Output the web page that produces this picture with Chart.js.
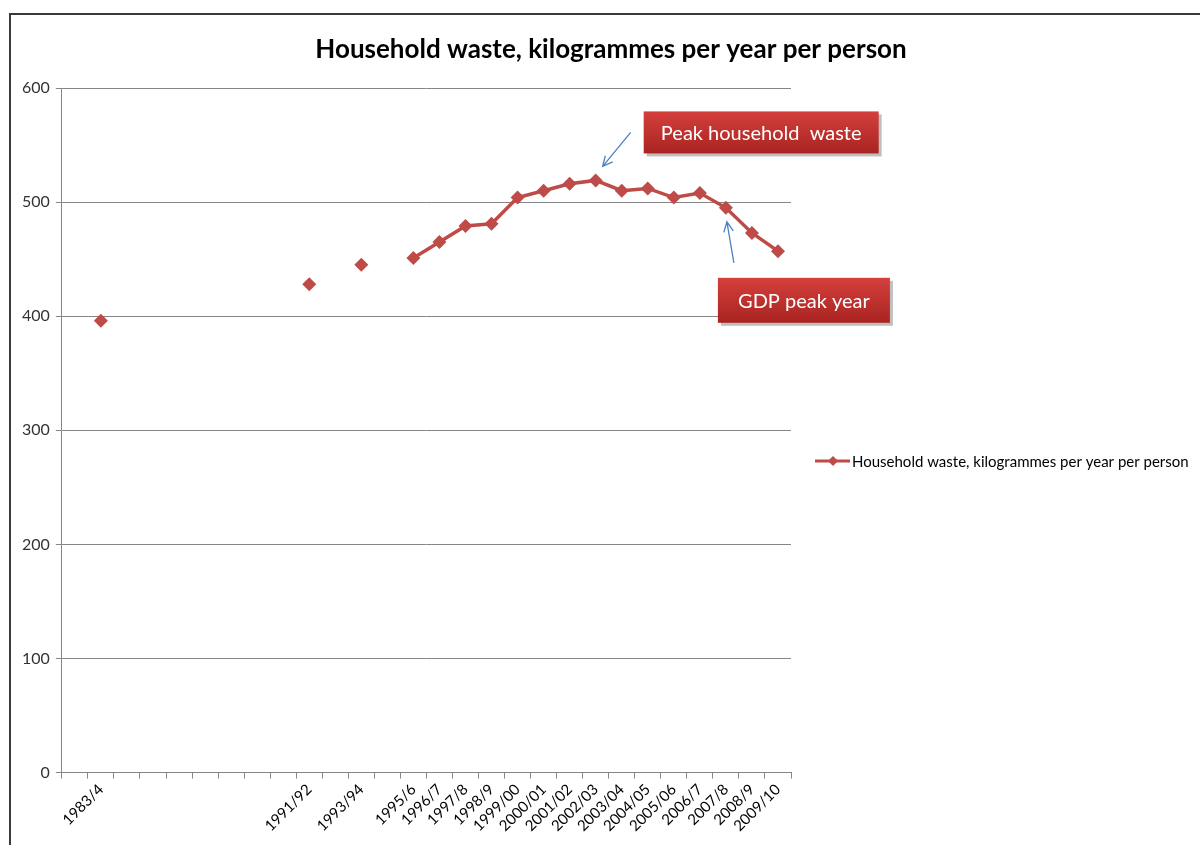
<!DOCTYPE html>
<html>
<head>
<meta charset="utf-8">
<script src="https://cdn.jsdelivr.net/npm/chart.js@4"></script>
<style>
  html, body { margin: 0; padding: 0; background: #fff; }
  #wrap { position: relative; width: 1200px; height: 845px; }
</style>
</head>
<body>
<div id="wrap"><canvas id="chart" width="1200" height="845"></canvas></div>
<script>
// categories on the x axis (blank ones are years with no figure)
const categories = ['', '1983/4', '', '', '', '', '', '', '', '1991/92', '', '1993/94', '', '1995/6', '1996/7',
  '1997/8', '1998/9', '1999/00', '2000/01', '2001/02', '2002/03', '2003/04', '2004/05', '2005/06', '2006/7',
  '2007/8', '2008/9', '2009/10'];
// household waste, kg per person per year
const wasteKg = [null, 396, null, null, null, null, null, null, null, 428, null, 445, null, 451, 465,
  479, 481, 504, 510, 516, 519, 510, 512, 504, 508, 495, 473, 457];
const yTicks = [0, 100, 200, 300, 400, 500, 600];
const seriesName = 'Household waste, kilogrammes per year per person';
const chartTitle = 'Household waste, kilogrammes per year per person';

const red = '#BE4B48';
const font = 'Lato, "Open Sans", sans-serif';

function arrow(ctx, x1, y1, x2, y2) {
  ctx.save();
  ctx.strokeStyle = '#4F81BD';
  ctx.lineWidth = 1.3;
  ctx.beginPath();
  ctx.moveTo(x1, y1);
  ctx.lineTo(x2, y2);
  const a = Math.atan2(y2 - y1, x2 - x1);
  const h = 11;
  ctx.moveTo(x2 - h * Math.cos(a - 0.45), y2 - h * Math.sin(a - 0.45));
  ctx.lineTo(x2, y2);
  ctx.lineTo(x2 - h * Math.cos(a + 0.45), y2 - h * Math.sin(a + 0.45));
  ctx.stroke();
  ctx.restore();
}

function redBox(ctx, x, y, w, h, text) {
  ctx.save();
  ctx.fillStyle = 'rgba(0,0,0,0.25)';
  ctx.fillRect(x + 3, y + 3, w, h);
  const g = ctx.createLinearGradient(0, y, 0, y + h);
  g.addColorStop(0, '#D43F3C');
  g.addColorStop(1, '#A92421');
  ctx.fillStyle = g;
  ctx.fillRect(x, y, w, h);
  ctx.fillStyle = '#fff';
  ctx.font = '20px ' + font;
  ctx.textAlign = 'center';
  ctx.textBaseline = 'middle';
  ctx.fillText(text, x + w / 2, y + h / 2 + 1);
  ctx.restore();
}

const decor = {
  id: 'decor',
  afterDraw(chart) {
    const ctx = chart.ctx;
    const xs = chart.scales.x, ys = chart.scales.y;
    ctx.save();
    // frame
    ctx.strokeStyle = '#3a3a3a';
    ctx.lineWidth = 2;
    ctx.beginPath();
    ctx.moveTo(10, 845);
    ctx.lineTo(10, 14);
    ctx.lineTo(1200, 14);
    ctx.stroke();
    // title
    ctx.fillStyle = '#000';
    ctx.font = 'bold 26px ' + font;
    ctx.textAlign = 'center';
    ctx.textBaseline = 'middle';
    ctx.fillText(chartTitle, 611, 50);
    // legend
    const ly = 461;
    ctx.strokeStyle = red;
    ctx.lineWidth = 3;
    ctx.beginPath();
    ctx.moveTo(815, ly);
    ctx.lineTo(850, ly);
    ctx.stroke();
    ctx.fillStyle = red;
    ctx.beginPath();
    ctx.moveTo(833, ly - 5); ctx.lineTo(838, ly); ctx.lineTo(833, ly + 5); ctx.lineTo(828, ly);
    ctx.closePath();
    ctx.fill();
    ctx.fillStyle = '#000';
    ctx.font = '15px ' + font;
    ctx.textAlign = 'left';
    ctx.fillText(seriesName, 852, ly + 1);
    ctx.restore();

    // annotations tied to data points
    const i1 = categories.indexOf('2002/03');
    const p1x = xs.getPixelForValue(i1), p1y = ys.getPixelForValue(wasteKg[i1]);
    redBox(ctx, p1x + 48, p1y - 69, 235, 42, 'Peak household  waste');
    arrow(ctx, p1x + 35, p1y - 48, p1x + 7, p1y - 14);
    const i2 = categories.indexOf('2007/8');
    const p2x = xs.getPixelForValue(i2), p2y = ys.getPixelForValue(wasteKg[i2]);
    redBox(ctx, p2x - 8, p2y + 70, 172, 45, 'GDP peak year');
    arrow(ctx, p2x + 8, p2y + 55, p2x + 1, p2y + 14);
  }
};

new Chart(document.getElementById('chart').getContext('2d'), {
  type: 'line',
  data: {
    labels: categories,
    datasets: [{
      label: seriesName,
      data: wasteKg,
      borderColor: red,
      backgroundColor: red,
      borderWidth: 3.5,
      pointStyle: 'rectRot',
      pointRadius: 7,
      pointHoverRadius: 7,
      pointBorderWidth: 0,
      spanGaps: false,
      tension: 0
    }]
  },
  options: {
    responsive: false,
    animation: false,
    layout: { padding: { left: 16, right: 409, top: 88, bottom: 8 } },
    plugins: { legend: { display: false }, title: { display: false }, tooltip: { enabled: false } },
    scales: {
      x: {
        offset: true,
        grid: { offset: true, drawOnChartArea: false, color: '#868686', tickLength: 6 },
        border: { color: '#868686' },
        ticks: {
          autoSkip: false, maxRotation: 45, minRotation: 45, color: '#000',
          font: { family: font, size: 15 }, padding: 2
        }
      },
      y: {
        min: 0, max: 600,
        afterBuildTicks(s) { s.ticks = yTicks.map(v => ({ value: v })); },
        grid: { color: '#868686', tickLength: 6 },
        border: { color: '#868686' },
        ticks: { color: '#333', font: { family: font, size: 16 }, padding: 6 }
      }
    }
  },
  plugins: [decor]
});
</script>
</body>
</html>
